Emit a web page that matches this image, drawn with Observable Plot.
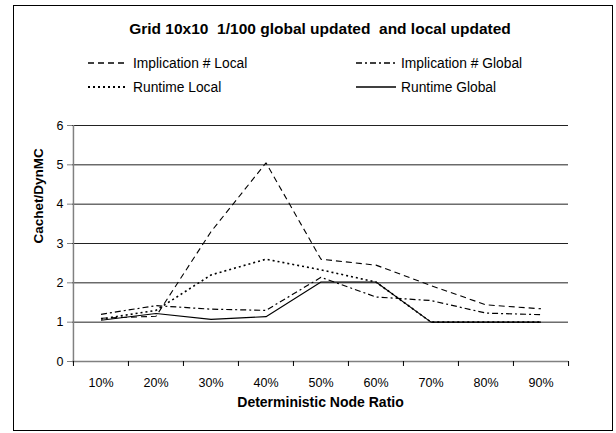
<!DOCTYPE html>
<html>
<head>
<meta charset="utf-8">
<script src="https://cdn.jsdelivr.net/npm/d3@7"></script>
<script src="https://cdn.jsdelivr.net/npm/@observablehq/plot@0.6"></script>
<style>
  html, body { margin: 0; padding: 0; background: #fff; width: 616px; height: 433px; overflow: hidden; }
  body { position: relative; font-family: "Liberation Sans", Arial, sans-serif; color: #000; }
  #frame { position: absolute; left: 13px; top: 5px; width: 598px; height: 424px; border: 1.5px solid #000; }
  #title { position: absolute; left: 62px; width: 516px; top: 20px; text-align: center; font-weight: bold; font-size: 15.5px; white-space: pre; }
  .leg { position: absolute; font-size: 13.8px; white-space: pre; display: flex; align-items: center; height: 18px; }
  .leg svg { margin-right: 5px; }
  #chart { position: absolute; left: 0; top: 105px; }
</style>
</head>
<body>
<div id="frame"></div>
<div id="title"></div>
<div id="legend"></div>
<div id="chart"></div>
<script>
const titleText = "Grid 10x10  1/100 global updated  and local updated";
const categories = ["10%", "20%", "30%", "40%", "50%", "60%", "70%", "80%", "90%"];
const yTicks = [0, 1, 2, 3, 4, 5, 6];
const seriesNames = ["Implication # Local", "Implication # Global", "Runtime Local", "Runtime Global"];
const implicationLocal  = [1.10, 1.15, 3.30, 5.05, 2.60, 2.45, 1.93, 1.44, 1.34];
const implicationGlobal = [1.20, 1.42, 1.33, 1.30, 2.14, 1.64, 1.55, 1.23, 1.19];
const runtimeLocal      = [1.08, 1.30, 2.20, 2.60, 2.33, 2.02, 1.00, 1.00, 1.00];
const runtimeGlobal     = [1.05, 1.22, 1.07, 1.14, 2.02, 2.02, 1.00, 1.00, 1.00];
const xLabel = "Deterministic Node Ratio";
const yLabel = "Cachet/DynMC";

const styles = [
  {dash: "6,4", width: 1.1},
  {dash: "6,3,2,3", width: 1.2},
  {dash: "2,3", width: 1.6},
  {dash: null, width: 1.1}
];
const allSeries = [implicationLocal, implicationGlobal, runtimeLocal, runtimeGlobal];

document.getElementById("title").textContent = titleText;

// legend
const legPos = [[88, 63], [356, 63], [88, 87], [356, 87]];
const legend = document.getElementById("legend");
seriesNames.forEach((name, i) => {
  const d = document.createElement("div");
  d.className = "leg";
  d.style.left = legPos[i][0] + "px";
  d.style.top = (legPos[i][1] - 9) + "px";
  const s = styles[i];
  d.innerHTML = `<svg width="40" height="6"><line x1="0" x2="40" y1="3" y2="3" stroke="#000" stroke-width="${s.width + 0.4}" ${s.dash ? `stroke-dasharray="${s.dash}"` : ""}/></svg><span>${name}</span>`;
  legend.appendChild(d);
});

const W = 616, H = 320;
const mL = 72, mR = 48, mT = 20, mB = 64;
const bw = (W - mL - mR) / categories.length;
const plotH = H - mT - mB;

const marks = [
  Plot.ruleY(yTicks.slice(1), {y: d => d, stroke: "#222", strokeWidth: 1}),
  Plot.ruleY([0], {y: d => d, stroke: "#808080", strokeWidth: 1.5}),
  Plot.ruleX([categories[0]], {x: d => d, dx: -bw / 2, stroke: "#808080", strokeWidth: 1.5}),
  Plot.axisY({ticks: yTicks, tickFormat: d3.format("d"), tickSize: 5, tickPadding: 4, label: null, fontSize: 12.5, stroke: "#808080"}),
  Plot.axisX({tickSize: 0, tickPadding: 17, label: null, fontSize: 12.5}),
  // boundary tick marks below the x axis
  Plot.ruleX(categories, {x: d => d, dx: -bw / 2, insetTop: plotH, insetBottom: -5, stroke: "#000", strokeWidth: 1}),
  Plot.ruleX([categories[categories.length - 1]], {x: d => d, dx: bw / 2, insetTop: plotH, insetBottom: -5, stroke: "#000", strokeWidth: 1}),
  Plot.text([xLabel], {frameAnchor: "bottom", dy: 45, text: d => d, fontWeight: "bold", fontSize: 14}),
  Plot.text([yLabel], {frameAnchor: "left", dx: -34, rotate: -90, text: d => d, fontWeight: "bold", fontSize: 13.5})
];

allSeries.forEach((vals, i) => {
  const rows = vals.map((v, j) => ({cat: categories[j], value: v}));
  marks.push(Plot.line(rows, {
    x: "cat", y: "value",
    stroke: "#000",
    strokeWidth: styles[i].width,
    strokeDasharray: styles[i].dash || undefined,
    strokeLinejoin: "miter",
    strokeLinecap: "butt"
  }));
});

const chart = Plot.plot({
  width: W, height: H,
  marginLeft: mL, marginRight: mR, marginTop: mT, marginBottom: mB,
  x: {type: "band", domain: categories, padding: 0, axis: null},
  y: {domain: [0, 6], axis: null},
  style: {fontFamily: "'Liberation Sans', Arial, sans-serif", fontSize: "12px", background: "transparent", color: "#000", overflow: "visible"},
  marks
});
document.getElementById("chart").appendChild(chart);
</script>
</body>
</html>
